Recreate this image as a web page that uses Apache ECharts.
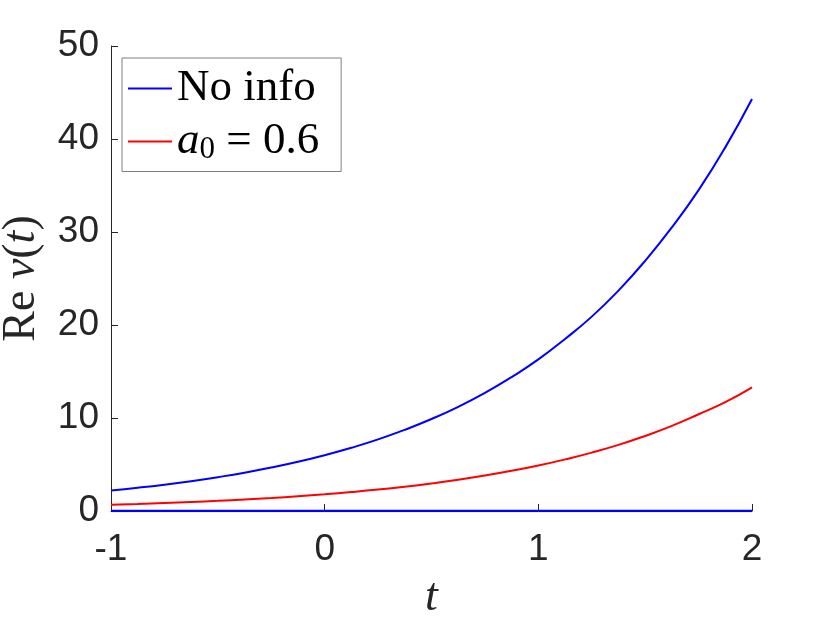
<!DOCTYPE html>
<html>
<head>
<meta charset="utf-8">
<script src="https://cdn.jsdelivr.net/npm/echarts@6/dist/echarts.min.js"></script>
<style>
  html, body { margin: 0; padding: 0; background: #fff; }
  #chart { width: 830px; height: 623px; }
</style>
</head>
<body>
<div id="chart"></div>
<script>
// values
const tValues = [-1, -0.875, -0.75, -0.625, -0.5, -0.375, -0.25, -0.125, 0, 0.125, 0.25, 0.375, 0.5,
  0.625, 0.75, 0.875, 1, 1.125, 1.25, 1.375, 1.5, 1.625, 1.75, 1.875, 2]
const noInfo = [2.21, 2.50, 2.83, 3.21, 3.64, 4.12, 4.67, 5.29, 6.0, 6.80, 7.70, 8.73, 9.89,
  11.2, 12.7, 14.4, 16.3, 18.5, 20.9, 23.7, 26.9, 30.5, 34.5, 39.1, 44.3]
const withInfo = [0.66, 0.75, 0.85, 0.96, 1.09, 1.24, 1.40, 1.59, 1.8, 2.04, 2.31, 2.62, 2.97,
  3.36, 3.81, 4.32, 4.89, 5.55, 6.28, 7.11, 8.07, 9.15, 10.4, 11.7, 13.3]
const zeroLine = [0, 0]
const zeroT = [-1, 2]

const axisColor = '#262626'
const serif = 'Liberation Serif'

const chart = echarts.init(document.getElementById('chart'))

const option = {
  animation: false,
  backgroundColor: '#fff',
  grid: { left: 111, right: 78, top: 46, bottom: 112, outerBoundsMode: 'none' },
  legend: {
    left: 122,
    top: 58,
    orient: 'vertical',
    data: ['No info', 'a0'],
    icon: 'rect',
    itemWidth: 44,
    itemHeight: 2,
    itemGap: 8,
    padding: [8, 22, 6, 6],
    borderColor: '#7f7f7f',
    borderWidth: 1,
    backgroundColor: '#fff',
    formatter: name => name === 'a0' ? '{i|a}{sub|0}{n| = 0.6}' : '{n|No info}',
    textStyle: {
      fontFamily: serif,
      fontSize: 45,
      color: '#000',
      rich: {
        n: { fontFamily: serif, fontSize: 45, color: '#000' },
        i: { fontFamily: serif, fontSize: 45, fontStyle: 'italic', color: '#000' },
        sub: { fontFamily: serif, fontSize: 31, color: '#000', verticalAlign: 'bottom', padding: [17, 0, 0, 0] }
      }
    }
  },
  xAxis: {
    type: 'value',
    min: -1,
    max: 2,
    interval: 1,
    name: 't',
    nameLocation: 'middle',
    nameGap: 64,
    nameTextStyle: { fontFamily: serif, fontSize: 46, fontStyle: 'italic', color: axisColor },
    axisLine: { show: true, onZero: false, lineStyle: { color: axisColor, width: 1 } },
    axisTick: { show: true, inside: true, length: 7, lineStyle: { color: axisColor } },
    axisLabel: { fontFamily: 'Liberation Sans', fontSize: 37, color: axisColor, margin: 20 },
    splitLine: { show: false }
  },
  yAxis: {
    type: 'value',
    min: 0,
    max: 50,
    interval: 10,
    name: '{r|Re }{i|v}{r|(}{i|t}{r|)}',
    nameLocation: 'middle',
    nameGap: 66,
    nameTextStyle: {
      color: axisColor,
      rich: {
        r: { fontFamily: serif, fontSize: 46, color: axisColor },
        i: { fontFamily: serif, fontSize: 46, fontStyle: 'italic', color: axisColor }
      }
    },
    axisLine: { show: true, onZero: false, lineStyle: { color: axisColor, width: 1 } },
    axisTick: { show: true, inside: true, length: 7, lineStyle: { color: axisColor } },
    axisLabel: { fontFamily: 'Liberation Sans', fontSize: 37, color: axisColor, margin: 12 },
    splitLine: { show: false }
  },
  series: [
    {
      name: 'No info',
      type: 'line',
      smooth: true,
      symbol: 'none',
      color: '#0000ff',
      lineStyle: { width: 2, color: '#0000ff' },
      data: tValues.map((t, i) => [t, noInfo[i]])
    },
    {
      name: 'a0',
      type: 'line',
      smooth: true,
      symbol: 'none',
      color: '#ff0000',
      lineStyle: { width: 2, color: '#ff0000' },
      data: tValues.map((t, i) => [t, withInfo[i]])
    },
    {
      name: 'zero',
      type: 'line',
      symbol: 'none',
      color: '#0000ff',
      lineStyle: { width: 2.5, color: '#0000ff' },
      data: zeroT.map((t, i) => [t, zeroLine[i]])
    }
  ]
}

chart.setOption(option)
</script>
</body>
</html>
